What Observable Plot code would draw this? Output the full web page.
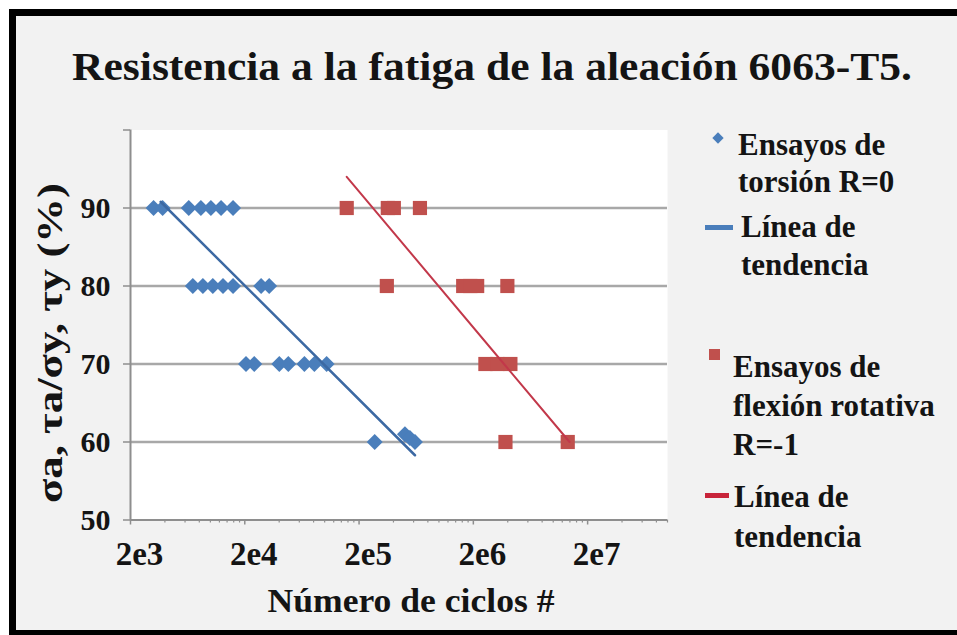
<!DOCTYPE html>
<html>
<head>
<meta charset="utf-8">
<script src="https://cdn.jsdelivr.net/npm/d3@7"></script>
<script src="https://cdn.jsdelivr.net/npm/@observablehq/plot@0.6"></script>
<style>
html, body { margin: 0; padding: 0; background: #ffffff; }
body { width: 957px; height: 635px; position: relative; overflow: hidden; }
* { font-family: "Liberation Serif", serif !important; }
#frame { position: absolute; left: 9px; top: 9px; width: 990px; height: 628px; box-sizing: border-box;
         border: 7px solid #000; background: #f2f2f2; }
#chart { position: absolute; left: 0; top: 0; }
.title { position: absolute; left: 72px; top: 47px; font-size: 39px; line-height: 39px; font-weight: bold;
         color: #141414; white-space: nowrap; transform-origin: left center; }
.leg { position: absolute; font-size: 31px; font-weight: bold; color: #141414; white-space: nowrap; }
.sym { position: absolute; }
</style>
</head>
<body>
<div id="frame"></div>
<div id="chart"></div>
<div class="title" id="title"></div>
<div id="legend"></div>
<script>
// ---------- data ----------
const titleText = "Resistencia a la fatiga de la aleación 6063-T5.";
const xLabel = "Número de ciclos #";
const yLabel = "σa, τa/σy, τy (%)";

// Ensayos de torsión R=0 (number of cycles, stress ratio %)
const torsionN = [3185, 3820, 6470, 8260, 10100, 12400, 15800,
                  7020, 8600, 10500, 12900, 15800, 27800, 32700,
                  20500, 24200, 40100, 48100, 66500, 81300, 104000,
                  274000, 504000, 557000, 617000];
const torsionS = [90, 90, 90, 90, 90, 90, 90,
                  80, 80, 80, 80, 80, 80, 80,
                  70, 70, 70, 70, 70, 70, 70,
                  60, 61, 60.5, 60];

// Ensayos de flexión rotativa R=-1
const flexionN = [156000, 357000, 403000, 682000,
                  350000, 1630000, 1880000, 2160000, 3970000,
                  2550000, 3240000, 4220000,
                  3820000, 13400000];
const flexionS = [90, 90, 90, 90,
                  80, 80, 80, 80, 80,
                  70, 70, 70,
                  60, 60];

// Líneas de tendencia (end points)
const torsionTrendN = [3670, 617000];
const torsionTrendS = [90.8, 58.3];
const flexionTrendN = [156000, 13900000];
const flexionTrendS = [94, 60];

// axes
const xDomain = [2000, 1e8];
const xTicks = [2e3, 2e4, 2e5, 2e6, 2e7];
const xTickLabels = ["2e3", "2e4", "2e5", "2e6", "2e7"];
const yDomain = [50, 100];
const yTicks = [50, 60, 70, 80, 90, 100];
const yTickLabels = ["50", "60", "70", "80", "90", ""];
const yGrid = [60, 70, 80, 90];

const legendTexts = [
  ["Ensayos de", "torsión R=0"],
  ["Línea de", "tendencia"],
  ["Ensayos de", "flexión rotativa", "R=-1"],
  ["Línea de", "tendencia"]
];

// ---------- build ----------
const serif = '"Liberation Serif", serif';
const torsion = torsionN.map((n, i) => ({n, s: torsionS[i]}));
const flexion = flexionN.map((n, i) => ({n, s: flexionS[i]}));
const torsionTrend = torsionTrendN.map((n, i) => ({n, s: torsionTrendS[i]}));
const flexionTrend = flexionTrendN.map((n, i) => ({n, s: flexionTrendS[i]}));
const xMinor = [];
for (const b of xTicks) for (let k = 2; k <= 9; k++) { const v = b * k; if (v <= xDomain[1]) xMinor.push(v); }

const blue = "#4a7ebb", red = "#c0504d";
const axisGray = "#8e8e8e", gridGray = "#a8a8a8";

const plot = Plot.plot({
  width: 957, height: 635,
  marginLeft: 130, marginRight: 290, marginTop: 129.5, marginBottom: 115.5,
  style: {background: "transparent", color: "#141414", overflow: "visible"},
  x: {type: "log", domain: xDomain},
  y: {domain: yDomain},
  marks: [
    Plot.frame({fill: "white", stroke: null}),
    Plot.ruleY(yGrid, {stroke: gridGray, strokeWidth: 2.5}),
    Plot.ruleX([xDomain[0]], {stroke: axisGray, strokeWidth: 2}),
    Plot.ruleY([yDomain[0]], {stroke: axisGray, strokeWidth: 2}),
    Plot.axisY({ticks: yTicks, tickFormat: d => yTickLabels[yTicks.indexOf(d)], tickSize: 7, tickPadding: 13,
                fontSize: 30, fontWeight: "bold", stroke: axisGray, strokeWidth: 1.5, label: null}),
    Plot.axisX({ticks: xMinor, tickFormat: () => "", tickSize: 3, stroke: axisGray, strokeWidth: 1.2, label: null}),
    Plot.axisX({ticks: xTicks, tickFormat: () => "", tickSize: 5, stroke: axisGray, strokeWidth: 1.5, label: null}),
    Plot.axisX({ticks: xTicks, tickFormat: d => xTickLabels[xTicks.indexOf(d)], tickSize: 0, tickPadding: 22,
                dx: 9, fontSize: 33, fontWeight: "bold", label: null}),
    Plot.dot(torsion, {x: "n", y: "s", symbol: "diamond2", r: 7.2, fill: blue, stroke: null}),
    Plot.dot(flexion, {x: "n", y: "s", symbol: "square", r: 8, fill: red, stroke: null}),
    Plot.line(torsionTrend, {x: "n", y: "s", stroke: "#3c69a3", strokeWidth: 2.5}),
    Plot.line(flexionTrend, {x: "n", y: "s", stroke: "#c2384a", strokeWidth: 2}),
    Plot.text([yLabel], {frameAnchor: "left", text: d => d, rotate: -90, dx: -80, dy: 18,
                         textAnchor: "middle", lineAnchor: "middle", fontSize: 36, fontWeight: "bold"}),
    Plot.text([xLabel], {frameAnchor: "bottom", text: d => d, dx: 12, dy: 81,
                         textAnchor: "middle", lineAnchor: "middle", fontSize: 33, fontWeight: "bold"})
  ]
});
document.getElementById("chart").appendChild(plot);
plot.querySelectorAll("text, tspan").forEach(el => el.style.setProperty("font-family", serif, "important"));
plot.querySelectorAll("text").forEach(el => {
  if (el.textContent === yLabel) { el.setAttribute("textLength", 320); el.setAttribute("lengthAdjust", "spacingAndGlyphs"); }
  if (el.textContent === xLabel) { el.setAttribute("textLength", 287); el.setAttribute("lengthAdjust", "spacingAndGlyphs"); }
});

// title
const t = document.getElementById("title");
t.textContent = titleText;
t.style.setProperty("font-family", serif, "important");
const tw = t.getBoundingClientRect().width;
t.style.transform = `scaleX(${840 / tw})`;

// legend
const leg = document.getElementById("legend");
const blocks = [
  {left: 738, top: 126, lh: 37},
  {left: 741, top: 207.5, lh: 38},
  {left: 733, top: 347, lh: 39},
  {left: 734, top: 476.5, lh: 40}
];
blocks.forEach((b, i) => {
  const d = document.createElement("div");
  d.className = "leg";
  d.style.left = b.left + "px";
  d.style.top = b.top + "px";
  d.style.lineHeight = b.lh + "px";
  d.style.setProperty("font-family", serif, "important");
  d.innerHTML = legendTexts[i].join("<br>");
  leg.appendChild(d);
});
function sym(css) { const s = document.createElement("div"); s.className = "sym"; Object.assign(s.style, css); leg.appendChild(s); }
sym({left: "714px", top: "134px", width: "8px", height: "8px", background: blue, transform: "rotate(45deg)"});
sym({left: "705px", top: "225px", width: "28px", height: "5px", background: blue});
sym({left: "708.5px", top: "348.5px", width: "11px", height: "11px", background: red});
sym({left: "705px", top: "493px", width: "24px", height: "5px", background: "#c8243a"});
</script>
</body>
</html>
